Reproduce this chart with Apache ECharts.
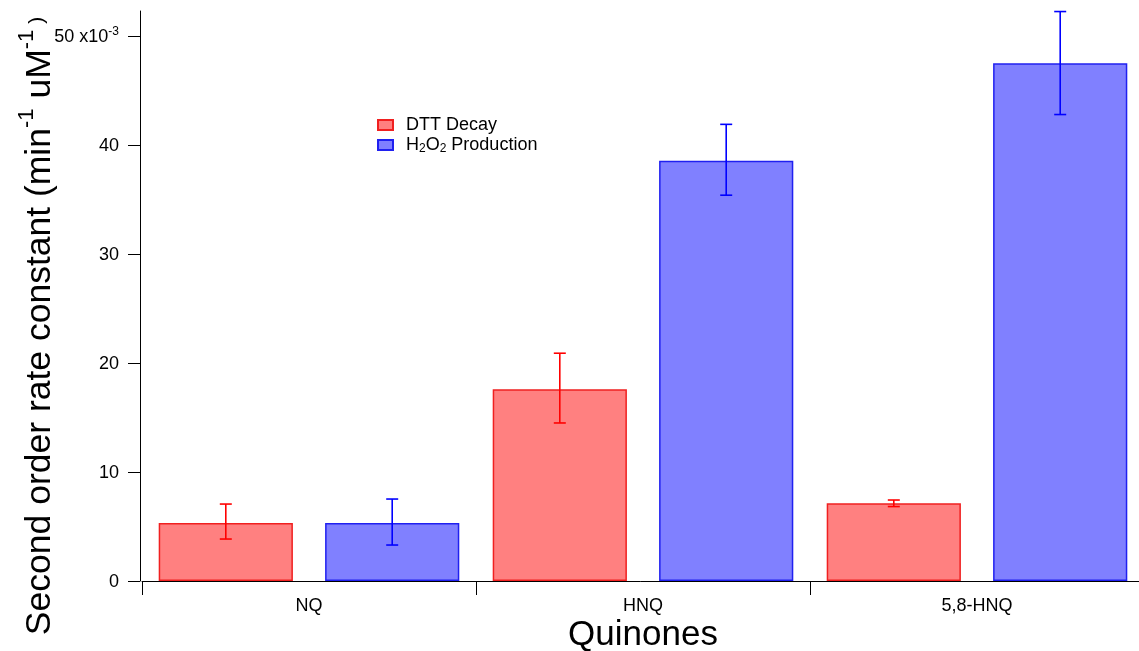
<!DOCTYPE html>
<html>
<head>
<meta charset="utf-8">
<style>
  html, body { margin: 0; padding: 0; background: #ffffff; }
  #chart { width: 1139px; height: 651px; }
</style>
<script src="https://cdn.jsdelivr.net/npm/echarts@6/dist/echarts.min.js"></script>
</head>
<body>
<div id="chart"></div>
<script>
// Quinone categories and second order rate constants (x10^-3 min^-1 uM^-1)
const categories = ['NQ', 'HNQ', '5,8-HNQ'];
const dttDecay = [5.32, 17.6, 7.13];
const dttDecayLow = [3.85, 14.5, 6.83];
const dttDecayHigh = [7.06, 20.9, 7.43];
const h2o2Production = [5.32, 38.56, 47.5];
const h2o2ProductionLow = [3.30, 35.4, 42.8];
const h2o2ProductionHigh = [7.52, 41.9, 52.25];
const yTicks = [0, 10, 20, 30, 40, 50];

const FONT = '"Liberation Sans", Arial, Helvetica, sans-serif';
const CAT_GAP = 0.10;   // barCategoryGap
const BAR_GAP = 0.24;   // barGap

const chart = echarts.init(document.getElementById('chart'), null, { renderer: 'canvas' });

// Error bar drawn at the centre of its bar; side = -1 for the first bar, +1 for the second
function errorBarRenderer(side, color) {
  return function (params, api) {
    const idx = api.value(0);
    const low = api.coord([idx, api.value(1)]);
    const high = api.coord([idx, api.value(2)]);
    const band = api.size([1, 0])[0];
    const barW = band * (1 - CAT_GAP) / (2 + BAR_GAP);
    const x = low[0] + side * (1 + BAR_GAP) * barW / 2;
    const cap = 6;
    const style = { stroke: color, lineWidth: 1.6 };
    return {
      type: 'group',
      children: [
        { type: 'line', shape: { x1: x, y1: high[1], x2: x, y2: low[1] }, style: style },
        { type: 'line', shape: { x1: x - cap, y1: high[1], x2: x + cap, y2: high[1] }, style: style },
        { type: 'line', shape: { x1: x - cap, y1: low[1], x2: x + cap, y2: low[1] }, style: style }
      ]
    };
  };
}

const dttErr = categories.map((c, i) => [i, dttDecayLow[i], dttDecayHigh[i]]);
const h2o2Err = categories.map((c, i) => [i, h2o2ProductionLow[i], h2o2ProductionHigh[i]]);

chart.setOption({
  backgroundColor: '#ffffff',
  animation: false,
  textStyle: { fontFamily: FONT, color: '#000' },
  grid: { left: 142, top: 11, width: 1002, bottom: 70, containLabel: false, outerBoundsMode: 'none' },
  legend: {
    orient: 'vertical',
    left: 372,
    top: 111,
    itemWidth: 15,
    itemHeight: 10,
    itemGap: 2,
    icon: 'rect',
    data: ['DTT Decay', 'H2O2 Production'],
    formatter: function (name) {
      if (name === 'H2O2 Production') {
        return '{a|H}{b|2}{a|O}{b|2}{a| Production}';
      }
      return '{a|' + name + '}';
    },
    textStyle: {
      fontFamily: FONT,
      color: '#000',
      padding: [0, 0, 0, 8],
      rich: {
        a: { fontSize: 18, lineHeight: 19, fontFamily: FONT, color: '#000', verticalAlign: 'middle' },
        b: { fontSize: 12, lineHeight: 19, fontFamily: FONT, color: '#000', verticalAlign: 'bottom' }
      }
    }
  },
  xAxis: {
    type: 'category',
    data: categories,
    offset: 2,
    name: 'Quinones',
    nameLocation: 'middle',
    nameGap: 35,
    nameMoveOverlap: false,
    nameTextStyle: { fontFamily: FONT, fontSize: 35, color: '#000' },
    axisLine: { show: true, lineStyle: { color: '#000', width: 1 } },
    axisTick: { show: true, length: 14, inside: false, lineStyle: { color: '#000', width: 1 } },
    axisLabel: { fontFamily: FONT, fontSize: 18, color: '#000', margin: 14 },
    splitLine: { show: false }
  },
  yAxis: {
    type: 'value',
    min: 0,
    max: 52.3,
    offset: 2,
    name: '{t|Second order rate constant (min}{s|-1}{t| uM}{s|-1}{p| )}{g| }',
    nameLocation: 'middle',
    nameGap: 82,
    nameMoveOverlap: false,
    nameTextStyle: {
      fontFamily: FONT,
      color: '#000',
      rich: {
        t: { fontSize: 35.5, lineHeight: 42, fontFamily: FONT, color: '#000', verticalAlign: 'bottom' },
        s: { fontSize: 22, lineHeight: 42, fontFamily: FONT, color: '#000', verticalAlign: 'top' },
        p: { fontSize: 21, lineHeight: 42, fontFamily: FONT, color: '#000', verticalAlign: 'middle' },
        g: { fontSize: 10, lineHeight: 42, width: 60 }
      }
    },
    axisLine: { show: true, lineStyle: { color: '#000', width: 1 } },
    axisTick: { show: true, length: 12, inside: false, customValues: yTicks, lineStyle: { color: '#000', width: 1 } },
    axisLabel: {
      fontFamily: FONT,
      color: '#000',
      margin: 21,
      customValues: yTicks,
      formatter: function (v) {
        return v === 50 ? '{n|50 x10}{e|-3}' : '{n|' + v + '}';
      },
      rich: {
        n: { fontSize: 18, lineHeight: 20, fontFamily: FONT, color: '#000', verticalAlign: 'bottom' },
        e: { fontSize: 12, lineHeight: 20, fontFamily: FONT, color: '#000', verticalAlign: 'top' }
      }
    },
    splitLine: { show: false }
  },
  series: [
    {
      name: 'DTT Decay',
      type: 'bar',
      data: dttDecay,
      barGap: (BAR_GAP * 100) + '%',
      barCategoryGap: (CAT_GAP * 100) + '%',
      itemStyle: { color: '#ff8080', borderColor: '#f02020', borderWidth: 1.5 }
    },
    {
      name: 'H2O2 Production',
      type: 'bar',
      data: h2o2Production,
      barGap: (BAR_GAP * 100) + '%',
      barCategoryGap: (CAT_GAP * 100) + '%',
      itemStyle: { color: '#8080ff', borderColor: '#2020f0', borderWidth: 1.5 }
    },
    {
      name: 'DTT Decay error',
      type: 'custom',
      data: dttErr,
      renderItem: errorBarRenderer(-1, '#ff0000'),
      encode: { x: 0, y: [1, 2] },
      z: 5,
      silent: true
    },
    {
      name: 'H2O2 Production error',
      type: 'custom',
      data: h2o2Err,
      renderItem: errorBarRenderer(1, '#0000ff'),
      encode: { x: 0, y: [1, 2] },
      z: 5,
      silent: true
    }
  ]
});
</script>
</body>
</html>
